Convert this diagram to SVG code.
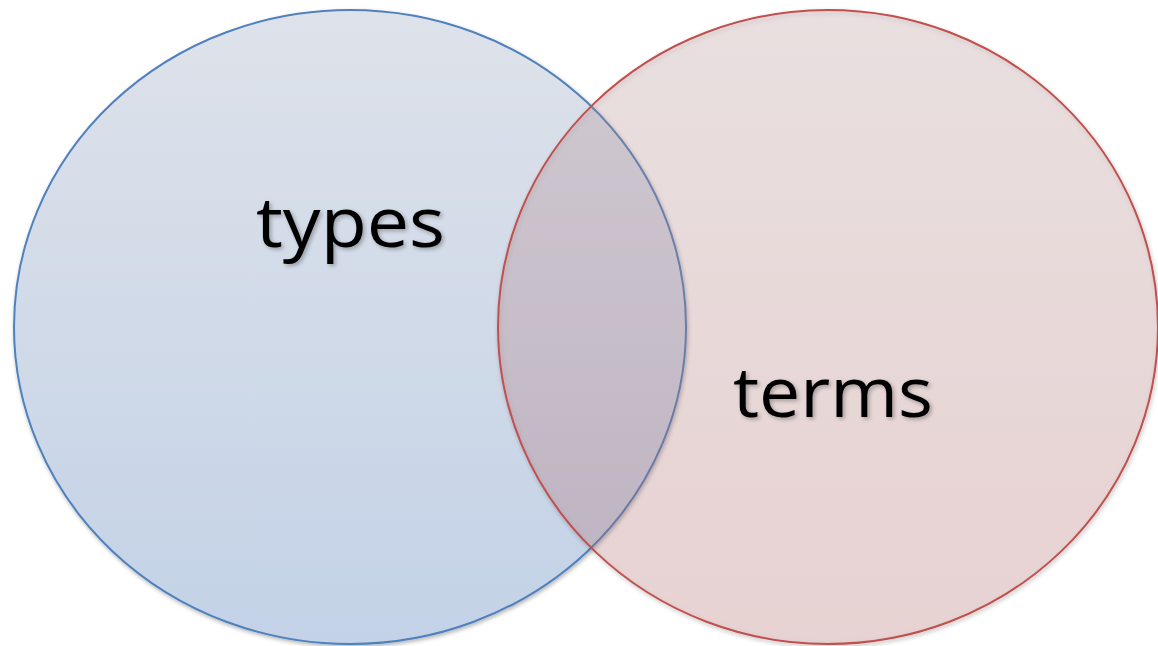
<svg xmlns="http://www.w3.org/2000/svg" width="1158" height="646" viewBox="0 0 1158 646">
  <defs>
    <linearGradient id="gL" x1="0" y1="0" x2="0" y2="1">
      <stop offset="0" stop-color="#dee2ea"/>
      <stop offset="1" stop-color="#c3d2e7"/>
    </linearGradient>
    <linearGradient id="gR" x1="0" y1="0" x2="0" y2="1">
      <stop offset="0" stop-color="#c29a9c"/>
      <stop offset="1" stop-color="#bb6a6a"/>
    </linearGradient>
    <filter id="sh" x="-10%" y="-10%" width="120%" height="120%">
      <feGaussianBlur in="SourceAlpha" stdDeviation="2"/>
      <feOffset dx="1" dy="2" result="b"/>
      <feComponentTransfer><feFuncA type="linear" slope="0.3"/></feComponentTransfer>
      <feMerge><feMergeNode/><feMergeNode in="SourceGraphic"/></feMerge>
    </filter>
    <filter id="tsh" x="-10%" y="-20%" width="120%" height="140%">
      <feGaussianBlur in="SourceAlpha" stdDeviation="2"/>
      <feOffset dx="2" dy="2"/>
      <feComponentTransfer><feFuncA type="linear" slope="0.3"/></feComponentTransfer>
      <feMerge><feMergeNode/><feMergeNode in="SourceGraphic"/></feMerge>
    </filter>
  </defs>
  <style>
    .lbl { font-family: "Open Sans", Lato, "Liberation Sans", sans-serif; font-size: 70px; fill: #000; }
  </style>
  <rect width="1158" height="646" fill="#ffffff"/>
  <g id="types-set">
    <ellipse cx="350" cy="327" rx="336" ry="317" fill="url(#gL)" stroke="#4f81bd" stroke-width="2" filter="url(#sh)"/>
  </g>
  <g id="terms-set">
    <ellipse cx="828" cy="327" rx="330" ry="317" fill="url(#gR)" fill-opacity="0.23" stroke="#c0504d" stroke-width="2" filter="url(#sh)"/>
  </g>
  <g id="connectors"/>
  <g id="labels">
    <text class="lbl" x="256" y="247" textLength="189" lengthAdjust="spacingAndGlyphs" filter="url(#tsh)">types</text>
    <text class="lbl" x="733" y="417" textLength="200" lengthAdjust="spacingAndGlyphs" filter="url(#tsh)">terms</text>
  </g>
</svg>
